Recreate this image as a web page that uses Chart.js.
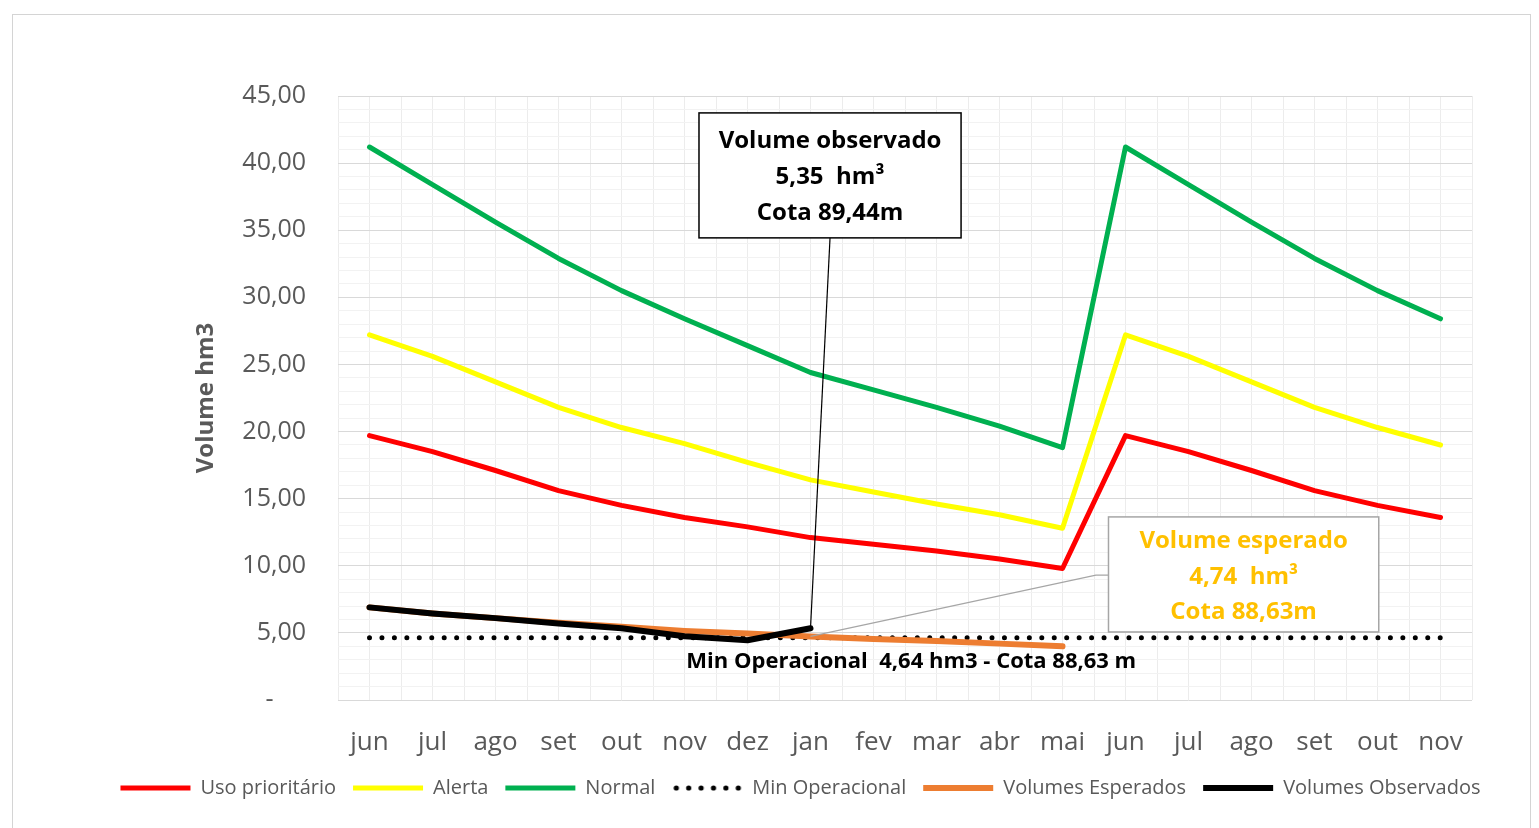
<!DOCTYPE html>
<html>
<head>
<meta charset="utf-8">
<script src="https://cdn.jsdelivr.net/npm/chart.js@4.4.1/dist/chart.umd.min.js"></script>
<style>
  html, body { margin: 0; padding: 0; background: #fff; }
  #frame { position: absolute; left: 12px; top: 14px; width: 1517px; height: 830px; border: 1px solid #d4d4d4; }
  #wrap { position: absolute; left: 0; top: 0; width: 1539px; height: 828px; }
</style>
</head>
<body>
<div id="frame"></div>
<div id="wrap"><canvas id="chart"></canvas></div>
<script>
const months = ["jun", "jul", "ago", "set", "out", "nov", "dez", "jan", "fev", "mar", "abr", "mai",
                "jun", "jul", "ago", "set", "out", "nov"];

const usoPrioritario = [19.7, 18.5, 17.1, 15.6, 14.5, 13.6, 12.9, 12.1, 11.6, 11.1, 10.5, 9.8,
                        19.7, 18.5, 17.1, 15.6, 14.5, 13.6];
const alerta = [27.2, 25.6, 23.7, 21.8, 20.3, 19.1, 17.7, 16.4, 15.5, 14.6, 13.8, 12.8,
                27.2, 25.6, 23.7, 21.8, 20.3, 19.0];
const normal = [41.2, 38.4, 35.6, 32.9, 30.5, 28.4, 26.4, 24.4, 23.1, 21.8, 20.4, 18.8,
                41.2, 38.4, 35.6, 32.9, 30.5, 28.4];
const minOperacional = [4.64, 4.64, 4.64, 4.64, 4.64, 4.64, 4.64, 4.64, 4.64, 4.64, 4.64, 4.64,
                        4.64, 4.64, 4.64, 4.64, 4.64, 4.64];
const volumesEsperados = [6.9, 6.45, 6.1, 5.75, 5.45, 5.15, 4.95, 4.74, 4.55, 4.4, 4.2, 4.0,
                          null, null, null, null, null, null];
const volumesObservados = [6.9, 6.45, 6.1, 5.7, 5.35, 4.75, 4.45, 5.35, null, null, null, null,
                           null, null, null, null, null, null];

const yTicks = [0, 5, 10, 15, 20, 25, 30, 35, 40, 45];

const FONT = "'Open Sans', sans-serif";
const GREY = "#595959";

function fmt(v) {
    if (v === 0) return "-     ";
    return v.toFixed(2).replace(".", ",");
}

// small canvas with a row of dots, used as the legend marker of the dotted series
function dotsMarker() {
    let c = document.createElement("canvas");
    c.width = 70;
    c.height = 8;
    let g = c.getContext("2d");
    g.fillStyle = "#000";
    for (let i = 0; i < 6; i++) {
        g.beginPath();
        g.arc(4 + i * 12.4, 4, 2.6, 0, Math.PI * 2);
        g.fill();
    }
    return c;
}

// text boxes and leader lines, placed in axis units
const notes = {
    id: "notes",
    afterDatasetsDraw(chart) {
        let ctx = chart.ctx;
        let x = chart.scales.x;
        let y = chart.scales.y;
        let jan = months.indexOf("jan");

        ctx.save();

        // observed box
        let l = x.getPixelForValue(5.23), r = x.getPixelForValue(9.39);
        let t = y.getPixelForValue(43.74), b = y.getPixelForValue(34.43);
        ctx.strokeStyle = "#000";
        ctx.lineWidth = 1.2;
        ctx.beginPath();
        ctx.moveTo(x.getPixelForValue(7.31), b);
        ctx.lineTo(x.getPixelForValue(jan), y.getPixelForValue(volumesObservados[jan]));
        ctx.stroke();
        ctx.fillStyle = "#fff";
        ctx.fillRect(l, t, r - l, b - t);
        ctx.lineWidth = 1.5;
        ctx.strokeRect(l, t, r - l, b - t);
        ctx.fillStyle = "#000";
        ctx.font = "bold 24px " + FONT;
        ctx.textAlign = "center";
        ctx.textBaseline = "middle";
        let cx = (l + r) / 2;
        ctx.fillText("Volume observado", cx, t + 28);
        ctx.fillText("5,35  hm³", cx, t + 64);
        ctx.fillText("Cota 89,44m", cx, t + 100);

        // expected box
        l = x.getPixelForValue(11.73); r = x.getPixelForValue(16.02);
        t = y.getPixelForValue(13.64); b = y.getPixelForValue(5.07);
        ctx.strokeStyle = "#a6a6a6";
        ctx.lineWidth = 1.2;
        ctx.beginPath();
        ctx.moveTo(l, y.getPixelForValue(9.31));
        ctx.lineTo(x.getPixelForValue(11.53), y.getPixelForValue(9.31));
        ctx.lineTo(x.getPixelForValue(jan), y.getPixelForValue(volumesEsperados[jan]));
        ctx.stroke();
        ctx.fillStyle = "#fff";
        ctx.fillRect(l, t, r - l, b - t);
        ctx.lineWidth = 1.5;
        ctx.strokeRect(l, t, r - l, b - t);
        ctx.fillStyle = "#ffc000";
        cx = (l + r) / 2;
        ctx.fillText("Volume esperado", cx, t + 24);
        ctx.fillText("4,74  hm³", cx, t + 60);
        ctx.fillText("Cota 88,63m", cx, t + 95);

        // min operacional label
        ctx.fillStyle = "#000";
        ctx.font = "bold 22px " + FONT;
        ctx.fillText("Min Operacional  4,64 hm3 - Cota 88,63 m", x.getPixelForValue(8.6), y.getPixelForValue(2.83));

        ctx.restore();
    }
};

function line(label, data, color, width, order) {
    return {
        label: label,
        data: data,
        borderColor: color,
        backgroundColor: color,
        borderWidth: width,
        borderCapStyle: "round",
        borderJoinStyle: "round",
        pointRadius: 0,
        tension: 0,
        fill: false,
        order: order
    };
}

let dotted = line("Min Operacional", minOperacional, "#000000", 5, 5);
dotted.borderDash = [0, 12.45];

const dots = dotsMarker();

new Chart(document.getElementById("chart"), {
    type: "line",
    data: {
        labels: months,
        datasets: [
            line("Uso prioritário", usoPrioritario, "#ff0000", 5, 2),
            line("Alerta", alerta, "#ffff00", 5, 3),
            line("Normal", normal, "#00b050", 5, 4),
            dotted,
            line("Volumes Esperados", volumesEsperados, "#ed7d31", 6, 1),
            line("Volumes Observados", volumesObservados, "#000000", 6, 0)
        ]
    },
    options: {
        responsive: true,
        maintainAspectRatio: false,
        animation: false,
        layout: { padding: { left: 62, right: 0, top: 96, bottom: 20 } },
        plugins: {
            tooltip: { enabled: false },
            legend: {
                position: "bottom",
                labels: {
                    usePointStyle: true,
                    pointStyle: "line",
                    pointStyleWidth: 70,
                    padding: 17,
                    color: GREY,
                    font: { family: FONT, size: 20 },
                    sort: (a, b) => a.datasetIndex - b.datasetIndex,
                    generateLabels: chart => {
                        let items = Chart.defaults.plugins.legend.labels.generateLabels(chart);
                        items.forEach(it => {
                            if (it.text === "Min Operacional") it.pointStyle = dots;
                        });
                        return items;
                    }
                }
            }
        },
        scales: {
            x: {
                type: "category",
                offset: true,
                grid: { offset: false, color: "#ececec", drawTicks: false },
                border: { display: false },
                ticks: {
                    color: GREY,
                    font: { family: FONT, size: 26 },
                    padding: 27,
                    maxRotation: 0,
                    autoSkip: false
                },
                afterFit: s => { s.height = 61; }
            },
            x2: {
                type: "category",
                labels: months,
                offset: true,
                position: "bottom",
                grid: { offset: true, color: "#ececec", drawTicks: false },
                border: { display: false },
                ticks: { display: false },
                afterFit: s => { s.height = 0; }
            },
            y: {
                min: 0,
                max: 45,
                grid: {
                    drawTicks: false,
                    color: c => (yTicks.includes(c.tick.value) ? "#d9d9d9" : "#f2f2f2")
                },
                border: { display: false },
                ticks: {
                    stepSize: 1,
                    autoSkip: false,
                    padding: 32,
                    color: GREY,
                    font: { family: FONT, size: 25 },
                    callback: v => (yTicks.includes(v) ? fmt(v) : "")
                },
                title: {
                    display: true,
                    text: "Volume hm3",
                    color: GREY,
                    font: { family: FONT, size: 24, weight: "bold" },
                    padding: { top: 130, bottom: 0 }
                },
                afterFit: s => { s.width = 276; }
            },
            yRight: {
                position: "right",
                grid: { display: false },
                border: { display: false },
                ticks: { display: false },
                afterFit: s => { s.width = 67; }
            }
        }
    },
    plugins: [notes]
});
</script>
</body>
</html>
